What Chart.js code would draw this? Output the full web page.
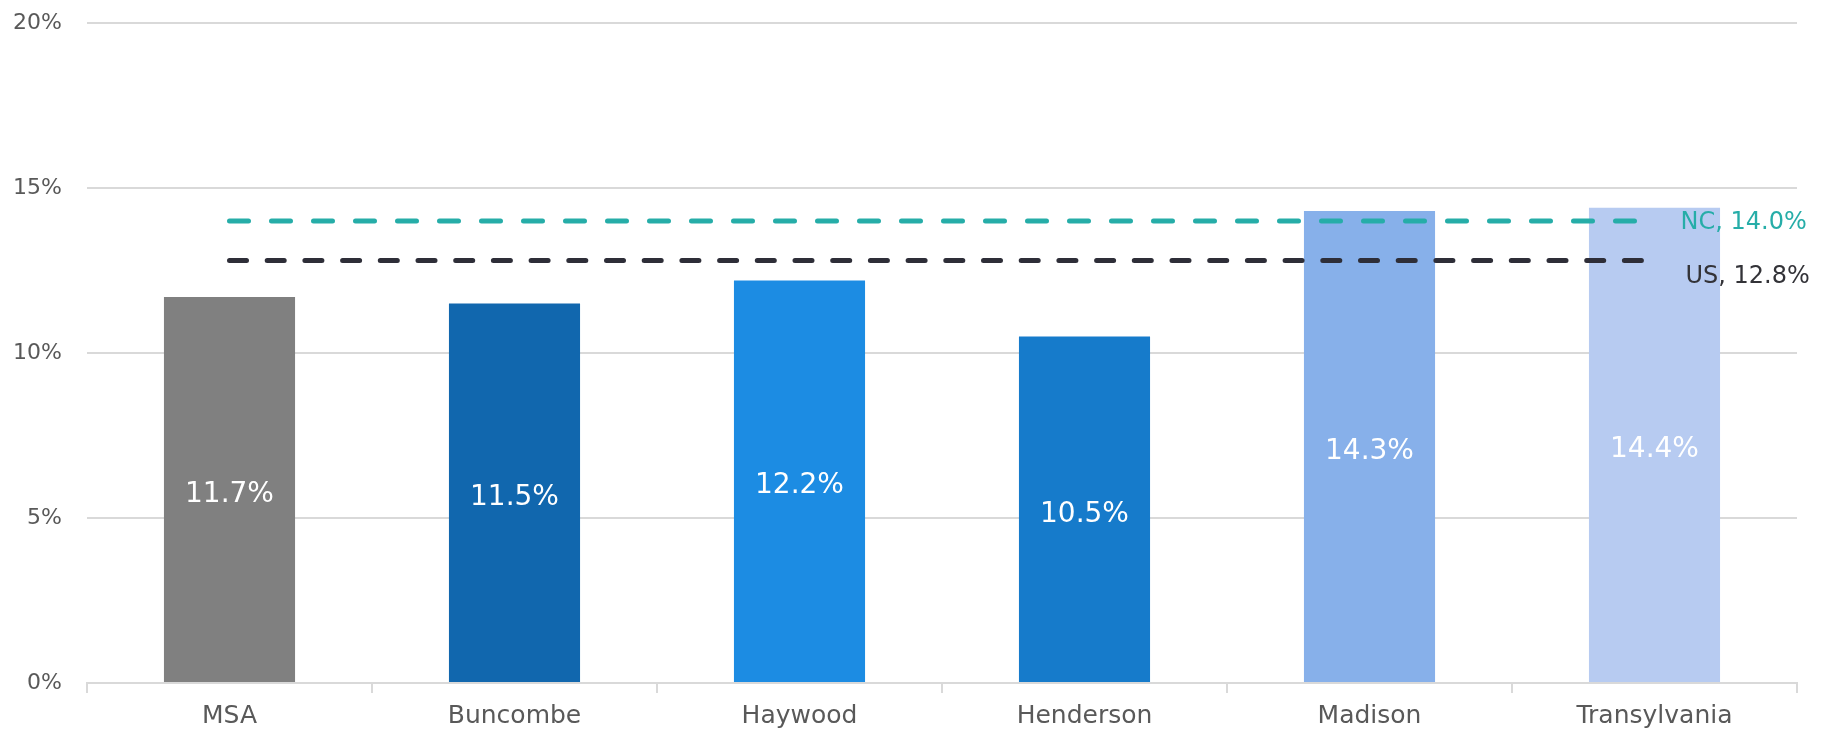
<!DOCTYPE html>
<html lang="en">
<head>
  <meta charset="UTF-8">
  <title>Share by county</title>
  <script src="https://cdn.jsdelivr.net/npm/chart.js"></script>
<style>
  body {
    margin: 0;
    padding: 0;
    background: #ffffff;
  }
  canvas {
    display: block;
  }
</style>
</head>
<body>
  <canvas id="chart" width="1830" height="734"></canvas>

<script>
  // data
  const categories = ["MSA", "Buncombe", "Haywood", "Henderson", "Madison", "Transylvania"];
  const shares = [11.7, 11.5, 12.2, 10.5, 14.3, 14.4];
  const barColors = ["#808080", "#1167ae", "#1c8ce3", "#167bcb", "#87b0ea", "#b7cbf1"];
  const ncValue = 14.0;
  const usValue = 12.8;
  const yTicks = [0, 5, 10, 15, 20];

  const font = "'DejaVu Sans', sans-serif";

  // labels inside bars + labels at the end of the reference lines
  const labelPlugin = {
    id: "labels",
    afterDatasetsDraw(chart) {
      const ctx = chart.ctx;
      ctx.save();
      const bars = chart.getDatasetMeta(0).data;
      ctx.font = "28px " + font;
      ctx.fillStyle = "#ffffff";
      ctx.textAlign = "center";
      ctx.textBaseline = "middle";
      bars.forEach((bar, i) => {
        ctx.fillText(shares[i].toFixed(1) + "%", bar.x, (bar.y + bar.base) / 2 + 5);
      });

      ctx.font = "24px " + font;
      ctx.textAlign = "left";
      const nc = chart.getDatasetMeta(1).data;
      const ncEnd = nc[nc.length - 1];
      ctx.fillStyle = "#26ada8";
      ctx.fillText("NC, " + ncValue.toFixed(1) + "%", ncEnd.x + 26, ncEnd.y + 2);

      const us = chart.getDatasetMeta(2).data;
      const usEnd = us[us.length - 1];
      ctx.fillStyle = "#333338";
      ctx.fillText("US, " + usValue.toFixed(1) + "%", usEnd.x + 31, usEnd.y + 16);
      ctx.restore();
    }
  };

  new Chart(document.getElementById("chart"), {
    type: "bar",
    data: {
      labels: categories,
      datasets: [
        {
          type: "bar",
          data: shares,
          backgroundColor: barColors,
          barPercentage: 0.46,
          categoryPercentage: 1,
          order: 2
        },
        {
          type: "line",
          data: categories.map(() => ncValue),
          borderColor: "#26ada8",
          borderWidth: 5,
          borderDash: [19, 23],
          borderCapStyle: "round",
          pointRadius: 0,
          fill: false,
          order: 1
        },
        {
          type: "line",
          data: categories.map(() => usValue),
          borderColor: "#2e2e38",
          borderWidth: 5,
          borderDash: [17, 20.7],
          borderCapStyle: "round",
          pointRadius: 0,
          fill: false,
          order: 0
        }
      ]
    },
    options: {
      responsive: false,
      animation: false,
      devicePixelRatio: 1,
      layout: {
        padding: { left: 0, right: 33, top: 23, bottom: 0 }
      },
      plugins: {
        legend: { display: false },
        tooltip: { enabled: false }
      },
      scales: {
        x: {
          offset: true,
          grid: {
            offset: true,
            drawOnChartArea: false,
            drawTicks: true,
            tickLength: 10,
            color: "#d9d9d9",
            lineWidth: 2
          },
          border: { display: true, color: "#d9d9d9", width: 2 },
          ticks: {
            color: "#595959",
            font: { family: font, size: 25 },
            padding: 8
          },
          afterFit(scale) { scale.height = 51; }
        },
        y: {
          min: 0,
          max: 20,
          afterBuildTicks(scale) {
            scale.ticks = yTicks.map(v => ({ value: v }));
          },
          grid: {
            drawTicks: false,
            color: "#d9d9d9",
            lineWidth: 2
          },
          border: { display: false },
          ticks: {
            color: "#595959",
            font: { family: font, size: 22 },
            padding: 25,
            callback: v => v + "%"
          },
          afterFit(scale) {
            scale.width = 87;
            scale.paddingTop = 0;
            scale.paddingBottom = 0;
          }
        }
      }
    },
    plugins: [labelPlugin]
  });
</script>
</body>
</html>
